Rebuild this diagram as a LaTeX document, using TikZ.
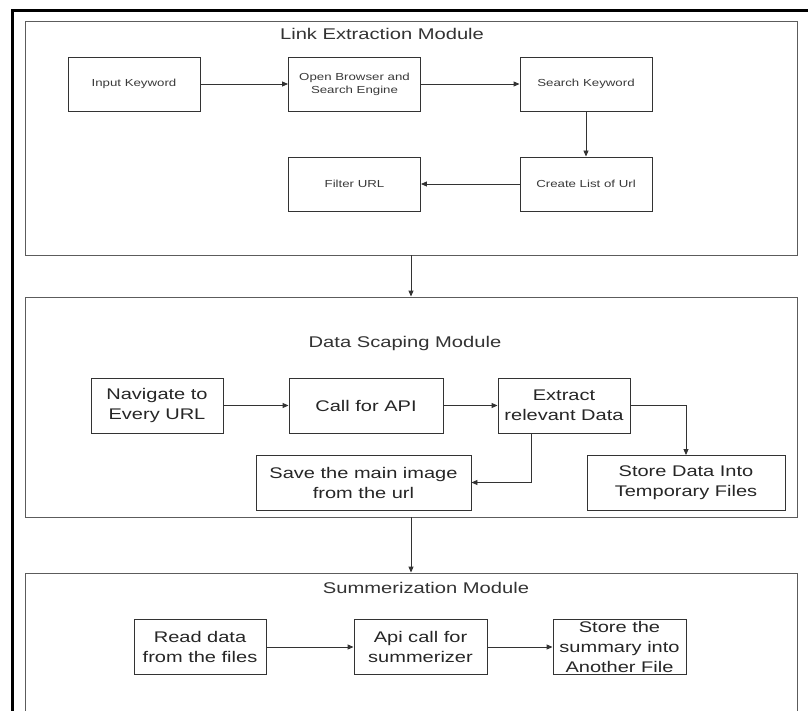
\documentclass[tikz,border=0pt]{standalone}
\usepackage{fontspec}
\setmainfont{Liberation Sans}[FakeStretch=1.3]
\usetikzlibrary{arrows.meta}
\definecolor{edgegrey}{HTML}{333333}
\definecolor{labelgrey}{HTML}{3A3A3A}

\begin{document}
\begin{tikzpicture}[x = 1pt, y = -1pt,
  module/.style = {draw = edgegrey!80, line width = 0.9pt, minimum width = 772pt, inner sep = 0pt},
  smallbox/.style = {draw = edgegrey, line width = 0.9pt, minimum width = 132pt, minimum height = 54pt, align = center, text = labelgrey, font = \fontsize{10.2}{13}\selectfont},
  bigbox/.style = {draw = edgegrey, line width = 0.9pt, minimum height = 55pt, inner sep = 1pt, align = center, text = black!85, font = \fontsize{15.4}{20}\selectfont},
  heading/.style = {text = black!80, font = \fontsize{15.5}{19}\selectfont},
  flow/.style = {draw = edgegrey, line width = 0.9pt, -{Triangle[length = 6pt, width = 5pt]}}]
\useasboundingbox (0, 0) rectangle (808, 711);
\clip (0, 0) rectangle (808, 711);
\fill[white] (0, 0) rectangle (808, 711);
\draw[black, line width = 3.5pt] (12.5, 760) -- (12.5, 10.5) -- (860, 10.5);
\node[module, minimum height = 234pt] (linkmod) at (411, 138) {};
\node[module, minimum height = 220pt] (scrapemod) at (411, 407) {};
\node[module, minimum height = 200pt] (summod) at (411, 673) {};
\node[heading] (linktitle) at (382, 34) {Link Extraction Module};
\node[heading] (scrapetitle) at (405, 343) {Data Scaping Module};
\node[heading] (sumtitle) at (426, 588) {Summerization Module};
\node[smallbox] (inkey) at (134, 84) {Input Keyword};
\node[smallbox] (browser) at (354.5, 84) {Open Browser and\\Search Engine};
\node[smallbox] (search) at (586, 84) {Search Keyword};
\node[smallbox] (urllist) at (586, 184) {Create List of Url};
\node[smallbox] (filter) at (354.5, 184) {Filter URL};
\node[bigbox, minimum width = 132pt] (navigate) at (157, 405.5) {Navigate to\\Every URL};
\node[bigbox, minimum width = 154pt] (callapi) at (366, 405.5) {Call for API};
\node[bigbox, minimum width = 132pt] (extract) at (564, 405.5) {Extract\\relevant Data};
\node[bigbox, minimum width = 215pt] (saveimg) at (363.5, 482.5) {Save the main image\\from the url};
\node[bigbox, minimum width = 198pt] (storedata) at (686, 483) {Store Data Into\\Temporary Files};
\node[bigbox, minimum width = 132pt] (readdata) at (200, 647) {Read data\\from the files};
\node[bigbox, minimum width = 133pt] (summapi) at (420.5, 647) {Api call for\\summerizer};
\node[bigbox, minimum width = 133pt, inner sep = 0pt] (storesum) at (619.5, 647) {Store the\\summary into\\Another File};
\draw[flow] (inkey) -- (browser);
\draw[flow] (browser) -- (search);
\draw[flow] (search) -- (urllist);
\draw[flow] (urllist) -- (filter);
\draw[flow] (linkmod) -- (scrapemod);
\draw[flow] (navigate) -- (callapi);
\draw[flow] (callapi) -- (extract);
\draw[flow] ([xshift = -33pt]extract.south) |- (saveimg.east);
\draw[flow] (extract.east) -| (storedata.north);
\draw[flow] (scrapemod) -- (summod);
\draw[flow] (readdata) -- (summapi);
\draw[flow] (summapi) -- (storesum);
\end{tikzpicture}
\end{document}
